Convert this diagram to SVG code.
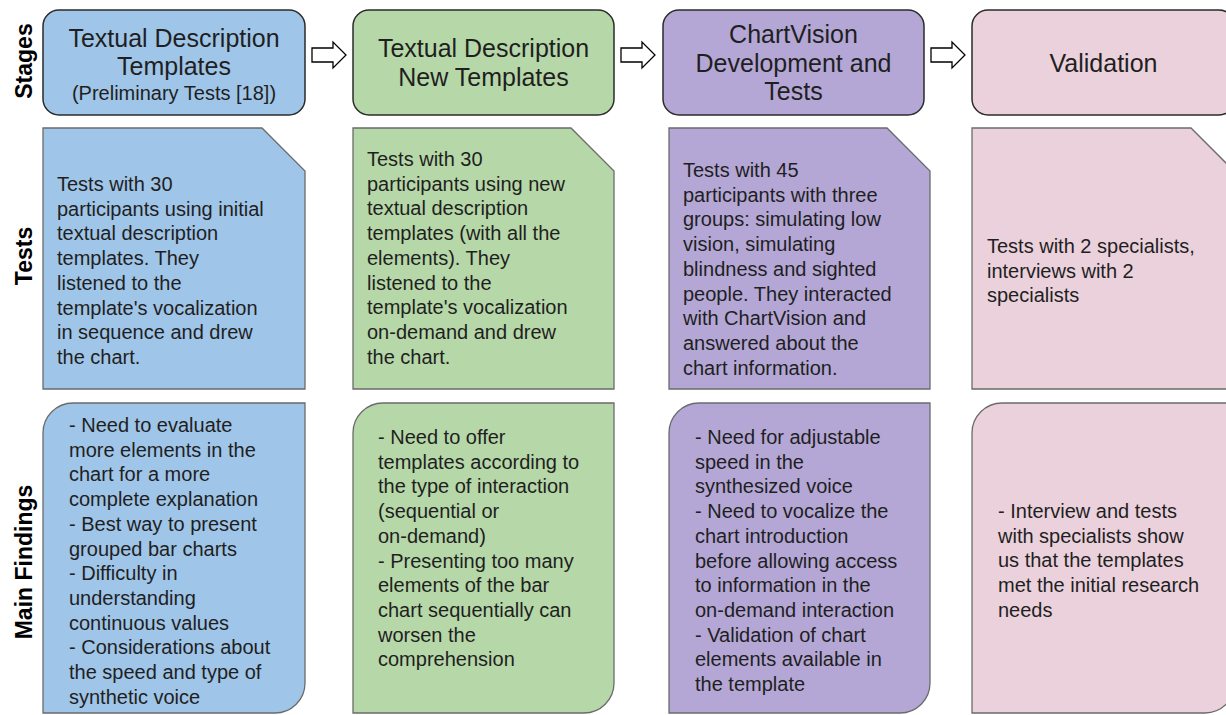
<svg xmlns="http://www.w3.org/2000/svg" width="1226" height="715" viewBox="0 0 1226 715">
<defs>
<style>
.hdr{stroke:#2b2b2b;stroke-width:1.5}
.box{stroke:#6b6b6b;stroke-width:1.3}
.blue{fill:#9fc5e8}.green{fill:#b6d7a8}.purple{fill:#b4a7d6}.pink{fill:#ead1dc}
.ht{font-family:"Liberation Sans",Arial,sans-serif;font-size:25px;fill:#1f1f1f;text-anchor:middle}
.hs{font-family:"Liberation Sans",Arial,sans-serif;font-size:20px;fill:#1f1f1f;text-anchor:middle}
.bt{font-family:"Liberation Sans",Arial,sans-serif;font-size:20px;fill:#1f1f1f}
.lbl{font-family:"Liberation Sans",Arial,sans-serif;font-size:23px;font-weight:bold;fill:#000;text-anchor:middle}
.arr{fill:#fff;stroke:#000;stroke-width:1.3;stroke-linejoin:miter}
</style>
</defs>
<rect width="1226" height="715" fill="#fff"/>

<g id="row-labels">
<text class="lbl" transform="translate(32,61) rotate(-90)">Stages</text>
<text class="lbl" transform="translate(32,256) rotate(-90)">Tests</text>
<text class="lbl" transform="translate(32,562) rotate(-90)">Main Findings</text>
</g>

<g id="stage1">
<rect class="hdr blue" x="43" y="10" width="262" height="105" rx="16"/>
<text class="ht" x="174" y="47">Textual Description</text>
<text class="ht" x="174" y="75">Templates</text>
<text class="hs" x="174" y="100">(Preliminary Tests [18])</text>
</g>
<g id="stage2">
<rect class="hdr green" x="353" y="10" width="261" height="105" rx="16"/>
<text class="ht" x="483.5" y="57">Textual Description</text>
<text class="ht" x="483.5" y="86">New Templates</text>
</g>
<g id="stage3">
<rect class="hdr purple" x="663" y="10" width="261" height="105" rx="16"/>
<text class="ht" x="793.5" y="43">ChartVision</text>
<text class="ht" x="793.5" y="71.5">Development and</text>
<text class="ht" x="793.5" y="100">Tests</text>
</g>
<g id="stage4">
<rect class="hdr pink" x="972" y="10" width="263" height="105" rx="16"/>
<text class="ht" x="1103.5" y="72">Validation</text>
</g>

<g id="connectors">
<polygon class="arr" points="312,48 333,48 333,42 346,55 333,68 333,62 312,62"/>
<polygon class="arr" points="621,48 642,48 642,42 655,55 642,68 642,62 621,62"/>
<polygon class="arr" points="931,48 952,48 952,42 965,55 952,68 952,62 931,62"/>
</g>

<g id="tests1">
<path class="box blue" d="M43,128 H262 L305,171 V389 H43 Z"/>
<text class="bt" x="57" y="191">
<tspan x="57" y="191">Tests with 30</tspan>
<tspan x="57" y="215.7">participants using initial</tspan>
<tspan x="57" y="240.4">textual description</tspan>
<tspan x="57" y="265.1">templates. They</tspan>
<tspan x="57" y="289.8">listened to the</tspan>
<tspan x="57" y="314.5">template's vocalization</tspan>
<tspan x="57" y="339.2">in sequence and drew</tspan>
<tspan x="57" y="363.9">the chart.</tspan>
</text>
</g>
<g id="tests2">
<path class="box green" d="M353,128 H571 L614,171 V389 H353 Z"/>
<text class="bt">
<tspan x="367" y="166">Tests with 30</tspan>
<tspan x="367" y="190.7">participants using new</tspan>
<tspan x="367" y="215.4">textual description</tspan>
<tspan x="367" y="240.1">templates (with all the</tspan>
<tspan x="367" y="264.8">elements). They</tspan>
<tspan x="367" y="289.5">listened to the</tspan>
<tspan x="367" y="314.2">template's vocalization</tspan>
<tspan x="367" y="338.9">on-demand and drew</tspan>
<tspan x="367" y="363.6">the chart.</tspan>
</text>
</g>
<g id="tests3">
<path class="box purple" d="M669,128 H887 L930,171 V389 H669 Z"/>
<text class="bt">
<tspan x="683" y="177">Tests with 45</tspan>
<tspan x="683" y="201.7">participants with three</tspan>
<tspan x="683" y="226.4">groups: simulating low</tspan>
<tspan x="683" y="251.1">vision, simulating</tspan>
<tspan x="683" y="275.8">blindness and sighted</tspan>
<tspan x="683" y="300.5">people. They interacted</tspan>
<tspan x="683" y="325.2">with ChartVision and</tspan>
<tspan x="683" y="349.9">answered about the</tspan>
<tspan x="683" y="374.6">chart information.</tspan>
</text>
</g>
<g id="tests4">
<path class="box pink" d="M972,128 H1191 L1235,172 V389 H972 Z"/>
<text class="bt">
<tspan x="987" y="253">Tests with 2 specialists,</tspan>
<tspan x="987" y="277.7">interviews with 2</tspan>
<tspan x="987" y="302.4">specialists</tspan>
</text>
</g>

<g id="findings1">
<path class="box blue" d="M43,433 A30,30 0 0 1 73,403 H305 V683 A30,30 0 0 1 275,713 H43 Z"/>
<text class="bt">
<tspan x="69" y="432">- Need to evaluate</tspan>
<tspan x="69" y="456.7">more elements in the</tspan>
<tspan x="69" y="481.4">chart for a more</tspan>
<tspan x="69" y="506.1">complete explanation</tspan>
<tspan x="69" y="530.8">- Best way to present</tspan>
<tspan x="69" y="555.5">grouped bar charts</tspan>
<tspan x="69" y="580.2">- Difficulty in</tspan>
<tspan x="69" y="604.9">understanding</tspan>
<tspan x="69" y="629.6">continuous values</tspan>
<tspan x="69" y="654.3">- Considerations about</tspan>
<tspan x="69" y="679">the speed and type of</tspan>
<tspan x="69" y="703.7">synthetic voice</tspan>
</text>
</g>
<g id="findings2">
<path class="box green" d="M353,433 A30,30 0 0 1 383,403 H614 V683 A30,30 0 0 1 584,713 H353 Z"/>
<text class="bt">
<tspan x="378" y="444">- Need to offer</tspan>
<tspan x="378" y="468.7">templates according to</tspan>
<tspan x="378" y="493.4">the type of interaction</tspan>
<tspan x="378" y="518.1">(sequential or</tspan>
<tspan x="378" y="542.8">on-demand)</tspan>
<tspan x="378" y="567.5">- Presenting too many</tspan>
<tspan x="378" y="592.2">elements of the bar</tspan>
<tspan x="378" y="616.9">chart sequentially can</tspan>
<tspan x="378" y="641.6">worsen the</tspan>
<tspan x="378" y="666.3">comprehension</tspan>
</text>
</g>
<g id="findings3">
<path class="box purple" d="M669,433 A30,30 0 0 1 699,403 H930 V683 A30,30 0 0 1 900,713 H669 Z"/>
<text class="bt">
<tspan x="695" y="444">- Need for adjustable</tspan>
<tspan x="695" y="468.7">speed in the</tspan>
<tspan x="695" y="493.4">synthesized voice</tspan>
<tspan x="695" y="518.1">- Need to vocalize the</tspan>
<tspan x="695" y="542.8">chart introduction</tspan>
<tspan x="695" y="567.5">before allowing access</tspan>
<tspan x="695" y="592.2">to information in the</tspan>
<tspan x="695" y="616.9">on-demand interaction</tspan>
<tspan x="695" y="641.6">- Validation of chart</tspan>
<tspan x="695" y="666.3">elements available in</tspan>
<tspan x="695" y="691">the template</tspan>
</text>
</g>
<g id="findings4">
<path class="box pink" d="M972,433 A30,30 0 0 1 1002,403 H1235 V683 A30,30 0 0 1 1205,713 H972 Z"/>
<text class="bt">
<tspan x="998" y="518">- Interview and tests</tspan>
<tspan x="998" y="542.7">with specialists show</tspan>
<tspan x="998" y="567.4">us that the templates</tspan>
<tspan x="998" y="592.1">met the initial research</tspan>
<tspan x="998" y="616.8">needs</tspan>
</text>
</g>
</svg>
